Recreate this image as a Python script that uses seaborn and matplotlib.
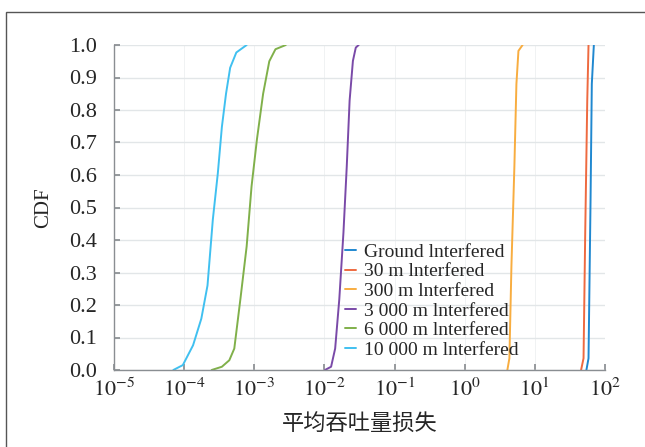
import numpy as np
import pandas as pd
import seaborn as sns
import matplotlib.pyplot as plt
from matplotlib.patches import Rectangle
from matplotlib.ticker import FixedLocator, LogLocator, NullFormatter

# CDF curves: x values as log10 of the average throughput loss
series_names = ["Ground lnterfered", "30 m lnterfered", "300 m lnterfered",
                "3 000 m lnterfered", "6 000 m lnterfered", "10 000 m lnterfered"]
series_colors = ["#2088d0", "#ee6a40", "#f8ad40", "#7a4aa8", "#80b04a", "#40c0f0"]

ground_log = [1.735, 1.765, 1.794, 1.812, 1.841]
ground_cdf = [0.0, 0.036, 0.524, 0.88, 1.0]
m30_log = [1.659, 1.694, 1.718, 1.747, 1.765]
m30_cdf = [0.0, 0.036, 0.422, 0.829, 1.0]
m300_log = [0.608, 0.637, 0.666, 0.708, 0.737, 0.766, 0.825]
m300_cdf = [0.0, 0.036, 0.32, 0.625, 0.88, 0.982, 1.0]
m3000_log = [-1.993, -1.905, -1.847, -1.788, -1.729, -1.682, -1.641, -1.594, -1.553, -1.512]
m3000_cdf = [0.0, 0.01, 0.066, 0.218, 0.422, 0.625, 0.829, 0.951, 0.992, 1.0]
m6000_log = [-3.608, -3.462, -3.356, -3.285, -3.197, -3.109, -3.039, -2.962, -2.874, -2.786, -2.698, -2.551]
m6000_cdf = [0.0, 0.01, 0.03, 0.066, 0.22, 0.38, 0.565, 0.71, 0.85, 0.95, 0.987, 1.0]
m10000_log = [-4.154, -4.019, -3.873, -3.755, -3.667, -3.591, -3.520, -3.462, -3.403, -3.344, -3.256, -3.109]
m10000_cdf = [0.0, 0.015, 0.076, 0.158, 0.26, 0.463, 0.605, 0.748, 0.85, 0.93, 0.977, 1.0]

all_logs = [ground_log, m30_log, m300_log, m3000_log, m6000_log, m10000_log]
all_cdfs = [ground_cdf, m30_cdf, m300_cdf, m3000_cdf, m6000_cdf, m10000_cdf]

frames = []
for name, xs, ys in zip(series_names, all_logs, all_cdfs):
    frames.append(pd.DataFrame({"loss": 10 ** np.array(xs), "cdf": ys, "series": name}))
df = pd.concat(frames, ignore_index=True)

sns.set_theme(style="white")
plt.rcParams["font.family"] = ["Liberation Serif", "Noto Sans CJK SC", "DejaVu Sans"]
plt.rcParams["mathtext.fontset"] = "stix"

fig = plt.figure(figsize=(6.45, 4.47), dpi=100)
ax = fig.add_axes([114 / 645, 1 - 370 / 447, (605 - 114) / 645, (370 - 45) / 447])

sns.lineplot(data=df, x="loss", y="cdf", hue="series", hue_order=series_names,
             palette=series_colors, sort=False, linewidth=1.4, ax=ax, legend=True)

ax.set_xscale("log")
ax.set_xlim(1e-5, 1e2)
ax.set_ylim(0, 1.0)
ax.xaxis.set_major_locator(FixedLocator([10.0 ** k for k in range(-5, 3)]))
ax.xaxis.set_minor_locator(LogLocator(base=10, subs=np.arange(2, 10)))
ax.xaxis.set_minor_formatter(NullFormatter())
ax.set_xticklabels([f"$10^{{{k}}}$" for k in range(-5, 3)])
ax.set_yticks(np.arange(0, 1.01, 0.1))
ax.set_yticklabels([f"{v:.1f}" for v in np.arange(0, 1.01, 0.1)])

ax.grid(axis="y", which="major", color="#e2e6e8", linewidth=1.0)
ax.grid(axis="x", which="both", color="#eef0f1", linewidth=0.6)
ax.set_axisbelow(True)

for side in ["top", "right"]:
    ax.spines[side].set_visible(False)
for side in ["left", "bottom"]:
    ax.spines[side].set_color("#8a8e92")
    ax.spines[side].set_linewidth(1.0)

ax.tick_params(axis="y", which="major", direction="in", length=4, color="#8a8e92",
               labelsize=16, pad=12, left=True)
ax.tick_params(axis="x", which="major", direction="in", length=4, color="#8a8e92",
               labelsize=16, pad=6, bottom=True)
ax.tick_params(axis="x", which="minor", direction="in", length=2, color="#b0b4b8", bottom=True)

ax.set_xlabel("平均吞吐量损失", fontsize=16, labelpad=10)
ax.set_ylabel("CDF", fontsize=15, labelpad=12)

ax.legend(loc="upper left", bbox_to_anchor=(0.47, 0.39), frameon=False, fontsize=14,
          handlelength=0.6, handletextpad=0.4, labelspacing=0.1, borderaxespad=0,
          borderpad=0)

fig.patches.append(Rectangle((6 / 645, -0.1), 1.2, 1 - 12 / 447 + 0.1, transform=fig.transFigure,
                             fill=False, edgecolor="#555555", linewidth=1.0))

fig.savefig("out.png", dpi=100)
